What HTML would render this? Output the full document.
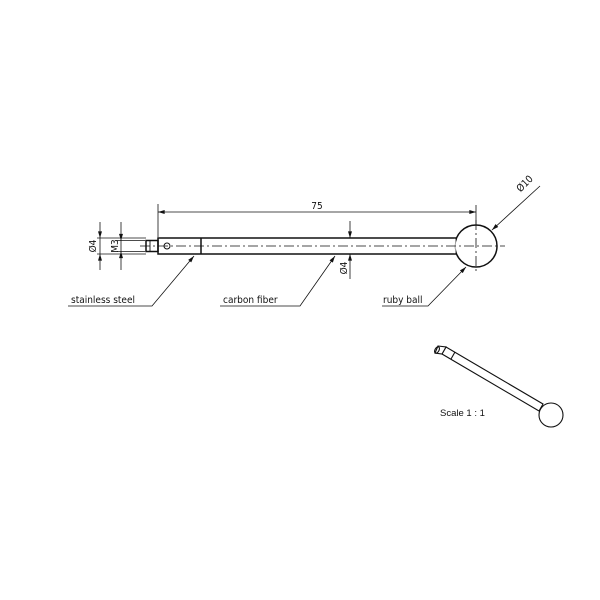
<!DOCTYPE html>
<html><head><meta charset="utf-8"><style>html,body{margin:0;padding:0;background:#fff}svg{display:block}</style></head>
<body>
<svg width="600" height="600" viewBox="0 0 600 600" xmlns="http://www.w3.org/2000/svg" font-family="'DejaVu Sans Condensed','Liberation Sans',sans-serif" font-size="10" fill="none" stroke="#111">
<defs>
<marker id="a" viewBox="0 0 10 6" refX="10" refY="3" markerWidth="8" markerHeight="4" orient="auto-start-reverse" markerUnits="userSpaceOnUse"><path d="M0,0L10,3L0,6z" fill="#111" stroke="none"/></marker>
</defs>
<g stroke-width="1.5">
<rect x="158" y="238" width="298" height="16"/>
<line x1="201" y1="238" x2="201" y2="254"/>
<rect x="146" y="240.5" width="12" height="11"/>
<line x1="150" y1="240.5" x2="150" y2="251.5" stroke-width="0.9"/>
<circle cx="167" cy="246" r="3" stroke-width="1"/>
<circle cx="476" cy="246" r="21" fill="#fff"/>
</g>
<line x1="455" y1="238.8" x2="455" y2="253.2" stroke="#fff" stroke-width="1.2"/>
<g stroke-width="0.8" stroke-dasharray="10,3,2,3">
<line x1="140" y1="246" x2="505" y2="246"/>
<line x1="476" y1="220" x2="476" y2="272"/>
</g>
<g stroke-width="0.8">
<line x1="158" y1="204" x2="158" y2="237"/>
<line x1="476" y1="205" x2="476" y2="224"/>
<line x1="158" y1="212" x2="476" y2="212" marker-start="url(#a)" marker-end="url(#a)"/>
<line x1="97" y1="238" x2="146" y2="238"/>
<line x1="97" y1="254" x2="146" y2="254"/>
<line x1="117" y1="240.5" x2="145" y2="240.5"/>
<line x1="117" y1="251.5" x2="145" y2="251.5"/>
<line x1="100" y1="222" x2="100" y2="238" marker-end="url(#a)"/>
<line x1="100" y1="270" x2="100" y2="254" marker-end="url(#a)"/>
<line x1="100" y1="238" x2="100" y2="254"/>
<line x1="121" y1="222" x2="121" y2="240.5" marker-end="url(#a)"/>
<line x1="121" y1="270" x2="121" y2="251.5" marker-end="url(#a)"/>
<line x1="121" y1="240" x2="121" y2="252"/>
<line x1="350" y1="221" x2="350" y2="238" marker-end="url(#a)"/>
<line x1="350" y1="279" x2="350" y2="254" marker-end="url(#a)"/>
<line x1="540" y1="186" x2="492" y2="230" marker-end="url(#a)"/>
<polyline points="68,306 152,306 194,256" marker-end="url(#a)"/>
<polyline points="220,306 300,306 335,256" marker-end="url(#a)"/>
<polyline points="382,306 428,306 466,267" marker-end="url(#a)"/>
</g>
<g fill="#111" stroke="none">
<text x="317" y="209" text-anchor="middle">75</text>
<text transform="translate(96,246) rotate(-90)" text-anchor="middle">Ø4</text>
<text transform="translate(118,246) rotate(-90)" text-anchor="middle">M3</text>
<text transform="translate(347,268) rotate(-90)" text-anchor="middle">Ø4</text>
<text transform="translate(527,186) rotate(-45)" text-anchor="middle">Ø10</text>
<text x="71" y="303">stainless steel</text>
<text x="223" y="303">carbon fiber</text>
<text x="383" y="303">ruby ball</text>
<text x="440" y="416" font-family="'Liberation Sans',sans-serif" font-size="9.5">Scale 1 : 1</text>
</g>
<g stroke-width="1.1">
<polygon points="446,347 543,404 539,411 442,354" fill="#fff"/>
<line x1="455" y1="352" x2="451" y2="359"/>
<polygon points="438,346 446,347 442,354 435,353" fill="#fff"/>
<ellipse cx="437" cy="350" rx="2" ry="3.5" transform="rotate(30 437 350)"/>
<circle cx="551" cy="415" r="12" fill="#fff"/>
</g>
</svg>
</body></html>
